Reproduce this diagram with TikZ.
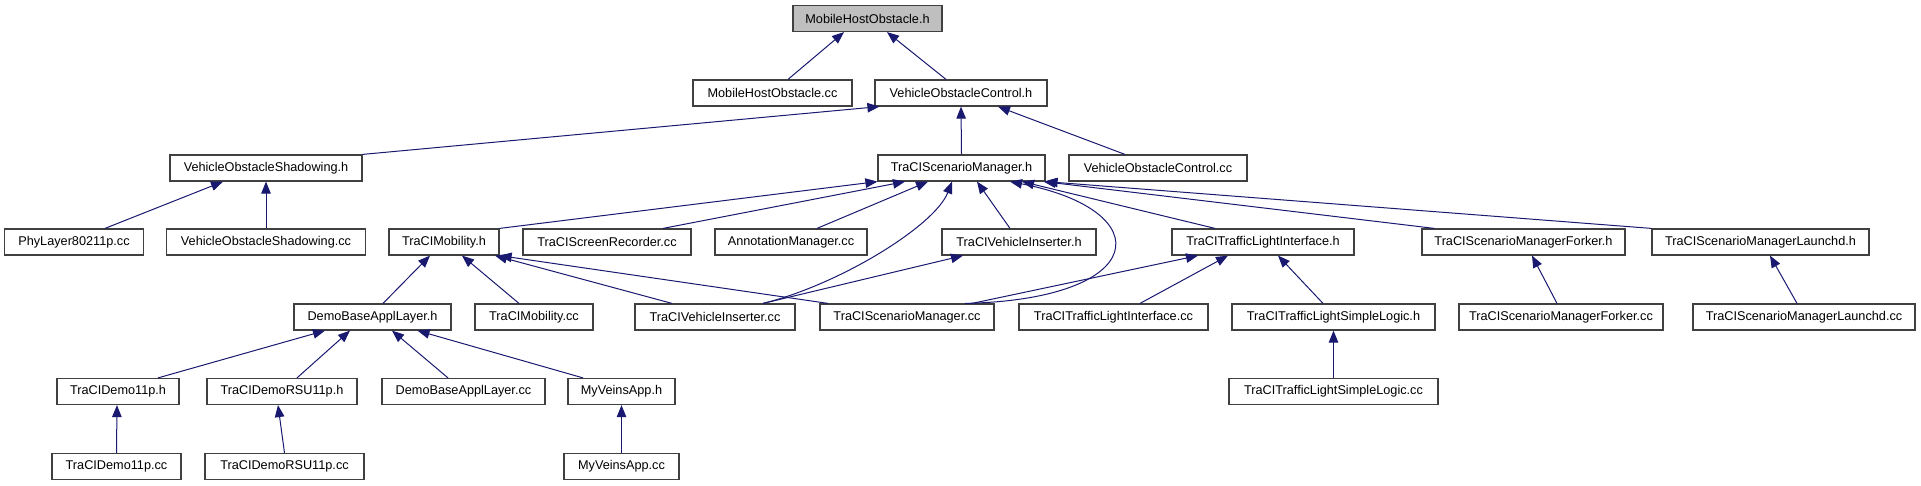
\documentclass[tikz,border=0pt]{standalone}
\usepackage{fontspec}
\setmainfont{Liberation Sans}
\usetikzlibrary{arrows.meta}
\definecolor{edgeblue}{HTML}{191970}
\definecolor{boxborder}{HTML}{404040}
\definecolor{focusfill}{HTML}{BFBFBF}
\tikzset{
  file/.style={rectangle, draw=boxborder, fill=white, line width=1.2pt, minimum height=26pt, inner sep=0pt, font=\fontsize{12.7}{15}\selectfont},
  focus/.style={file, fill=focusfill},
  dep/.style={-{Triangle[length=12pt, width=9.5pt]}, line width=1pt, draw=edgeblue},
}

\begin{document}
\begin{tikzpicture}[x=1pt, y=-1pt]
\useasboundingbox (0,0) rectangle (1921,485);

% ===== Top levels =====
\node[focus, minimum width=149pt] (mhoh)  at (867.5,18.5) {MobileHostObstacle.h};
\node[file, minimum width=159pt]  (mhocc) at (772.5,93)   {MobileHostObstacle.cc};
\node[file, minimum width=172pt]  (voch)  at (961,93)     {VehicleObstacleControl.h};
\node[file, minimum width=192pt]  (vosh)  at (266,168)    {VehicleObstacleShadowing.h};
\node[file, minimum width=167pt]  (tsmh)  at (961.5,168)  {TraCIScenarioManager.h};
\node[file, minimum width=178pt]  (voccc) at (1158,168)   {VehicleObstacleControl.cc};

% ===== Third row =====
\node[file, minimum width=139pt] (phycc)   at (74,242)     {PhyLayer80211p.cc};
\node[file, minimum width=199pt] (voscc)   at (266,242)    {VehicleObstacleShadowing.cc};
\node[file, minimum width=110pt] (mobh)    at (444,242)    {TraCIMobility.h};
\node[file, minimum width=168pt] (screccc) at (607,242)    {TraCIScreenRecorder.cc};
\node[file, minimum width=152pt] (annocc)  at (791,242)    {AnnotationManager.cc};
\node[file, minimum width=154pt] (vih)     at (1019,242)   {TraCIVehicleInserter.h};
\node[file, minimum width=182pt] (tlih)    at (1263,242)   {TraCITrafficLightInterface.h};
\node[file, minimum width=203pt] (forkh)   at (1523.5,242) {TraCIScenarioManagerForker.h};
\node[file, minimum width=217pt] (lnchh)   at (1760.5,242) {TraCIScenarioManagerLaunchd.h};

% ===== Fourth row =====
\node[file, minimum width=157pt] (dbalh)  at (372.5,317)  {DemoBaseApplLayer.h};
\node[file, minimum width=118pt] (mobcc)  at (534,317)    {TraCIMobility.cc};
\node[file, minimum width=160pt] (vicc)   at (715,317)    {TraCIVehicleInserter.cc};
\node[file, minimum width=174pt] (tsmcc)  at (907,317)    {TraCIScenarioManager.cc};
\node[file, minimum width=189pt] (tlicc)  at (1113.5,317) {TraCITrafficLightInterface.cc};
\node[file, minimum width=203pt] (tlslh)  at (1333.5,317) {TraCITrafficLightSimpleLogic.h};
\node[file, minimum width=204pt] (forkcc) at (1561,317)   {TraCIScenarioManagerForker.cc};
\node[file, minimum width=222pt] (lnchcc) at (1804,317)   {TraCIScenarioManagerLaunchd.cc};

% ===== Bottom rows =====
\node[file, minimum width=122pt] (demoh)   at (118,391.5)    {TraCIDemo11p.h};
\node[file, minimum width=150pt] (rsuh)    at (282,391.5)    {TraCIDemoRSU11p.h};
\node[file, minimum width=163pt] (dbalcc)  at (463.5,391.5)  {DemoBaseApplLayer.cc};
\node[file, minimum width=107pt] (veinsh)  at (621.5,391.5)  {MyVeinsApp.h};
\node[file, minimum width=209pt] (tlslcc)  at (1333.5,391.5) {TraCITrafficLightSimpleLogic.cc};
\node[file, minimum width=129pt] (democc)  at (116.5,466.5)  {TraCIDemo11p.cc};
\node[file, minimum width=159pt] (rsucc)   at (284.5,466.5)  {TraCIDemoRSU11p.cc};
\node[file, minimum width=115pt] (veinscc) at (621.5,466.5)  {MyVeinsApp.cc};

% ===== Includes =====
\draw[dep] ([xshift=15.5pt]mhocc.north) -- ([xshift=-23.5pt]mhoh.south);
\draw[dep] ([xshift=-15pt]voch.north) -- ([xshift=19.5pt]mhoh.south);
\draw[dep] (vosh.north east) -- ([xshift=5pt]voch.south west);
\draw[dep] (tsmh.north) -- (voch.south);
\draw[dep] ([xshift=-33pt]voccc.north) -- ([xshift=37pt]voch.south);
\draw[dep] ([xshift=31pt]phycc.north) -- ([xshift=-43pt]vosh.south);
\draw[dep] (voscc.north) -- (vosh.south);

\draw[dep] (mobh.north east) -- (tsmh.south west);
\draw[dep] ([xshift=56pt]screccc.north) -- ([xshift=-56.5pt]tsmh.south);
\draw[dep] ([xshift=26pt]annocc.north) -- ([xshift=-33.5pt]tsmh.south);
\draw[dep] ([xshift=48pt]vicc.north) .. controls +(77,-19) and +(-17,44) .. ([xshift=-9.5pt]tsmh.south);
\draw[dep] ([xshift=-9pt]vih.north) -- ([xshift=15.5pt]tsmh.south);
\draw[dep] ([xshift=58pt]tsmcc.north) .. controls +(185,-4) and +(150,29) .. ([xshift=48.5pt]tsmh.south);
\draw[dep] ([xshift=-48pt]tlih.north) -- ([xshift=60.5pt]tsmh.south);
\draw[dep] ([xshift=13pt]forkh.north west) -- ([xshift=-2pt]tsmh.south east);
\draw[dep] (lnchh.north west) -- (tsmh.south east);

\draw[dep] ([xshift=10.5pt]dbalh.north) -- ([xshift=-14pt]mobh.south);
\draw[dep] ([xshift=-15pt]mobcc.north) -- ([xshift=18pt]mobh.south);
\draw[dep] ([xshift=-43pt]vicc.north) -- ([xshift=51pt]mobh.south);
\draw[dep] ([xshift=-79pt]tsmcc.north) -- (mobh.south east);
\draw[dep] ([xshift=48pt]vicc.north) -- ([xshift=-56pt]vih.south);
\draw[dep] ([xshift=65pt]tsmcc.north) -- ([xshift=-65pt]tlih.south);
\draw[dep] ([xshift=26.5pt]tlicc.north) -- ([xshift=-35pt]tlih.south);
\draw[dep] ([xshift=-10.5pt]tlslh.north) -- ([xshift=15pt]tlih.south);
\draw[dep] ([xshift=-4pt]forkcc.north) -- ([xshift=8.5pt]forkh.south);
\draw[dep] ([xshift=-7pt]lnchcc.north) -- ([xshift=9.5pt]lnchh.south);
\draw[dep] (tlslcc) -- (tlslh);

\draw[dep] ([xshift=40pt]demoh.north) -- ([xshift=-47.5pt]dbalh.south);
\draw[dep] ([xshift=15pt]rsuh.north) -- ([xshift=-22.5pt]dbalh.south);
\draw[dep] ([xshift=-15.5pt]dbalcc.north) -- ([xshift=19.5pt]dbalh.south);
\draw[dep] ([xshift=-38.5pt]veinsh.north) -- ([xshift=45pt]dbalh.south);
\draw[dep] (democc.north) -- ([xshift=-1pt]demoh.south);
\draw[dep] (rsucc.north) -- ([xshift=-4pt]rsuh.south);
\draw[dep] (veinscc) -- (veinsh);

\end{tikzpicture}
\end{document}
